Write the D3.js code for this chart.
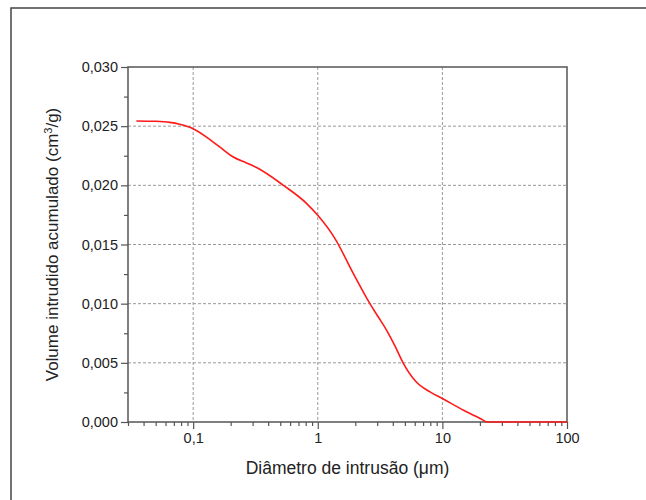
<!DOCTYPE html>
<html lang="pt">
<head>
  <meta charset="UTF-8">
  <title>Volume intrudido acumulado</title>
  <script src="https://d3js.org/d3.v7.min.js"></script>
  <style>
    body { margin: 0; background: #fff; }
    text { font-family: "Liberation Sans", Arial, sans-serif; fill: #222; }
  </style>
</head>
<body>
  <div id="chart"></div>

  <script>
    // Data
    const diameter = [0.035, 0.05, 0.065, 0.078, 0.1, 0.145, 0.174, 0.21, 0.268, 0.323, 0.53, 0.815,
                      1.0, 1.375, 1.93, 2.62, 3.06, 3.57, 4.17, 4.8, 6.1, 7.96, 10, 14.8, 20.1, 23,
                      30, 50, 100];
    const volume = [0.02544, 0.02541, 0.02532, 0.02516, 0.02479, 0.02366, 0.02302, 0.02239, 0.02189,
                    0.02150, 0.0200, 0.01846, 0.01747, 0.0155, 0.01254, 0.0100, 0.00887, 0.00775,
                    0.00642, 0.00507, 0.00345, 0.00254, 0.00198, 0.00099, 0.0003, 0, 0, 0, 0];
    const xTicks = [0.1, 1, 10, 100];
    const xTickLabels = ["0,1", "1", "10", "100"];
    const yTicks = [0, 0.005, 0.010, 0.015, 0.020, 0.025, 0.030];

    const width = 646, height = 500;
    const margin = { top: 67, right: 79, bottom: 78, left: 128 };
    const iw = width - margin.left - margin.right;
    const ih = height - margin.top - margin.bottom;

    const svg = d3.select("#chart").append("svg")
      .attr("width", width)
      .attr("height", height);

    // outer frame (only left and top visible in the crop)
    svg.append("path")
      .attr("d", `M11,${height} V8 H${width}`)
      .attr("fill", "none")
      .attr("stroke", "#444")
      .attr("stroke-width", 1.5);

    const g = svg.append("g").attr("transform", `translate(${margin.left},${margin.top})`);

    const x = d3.scaleLog().domain([0.03, 100]).range([0, iw]);
    const y = d3.scaleLinear().domain([0, 0.030]).range([ih, 0]);

    // grid
    g.append("g").selectAll("line")
      .data(xTicks.slice(0, -1))
      .join("line")
      .attr("x1", d => x(d)).attr("x2", d => x(d))
      .attr("y1", 0).attr("y2", ih)
      .attr("stroke", "#999").attr("stroke-dasharray", "3,2");
    g.append("g").selectAll("line")
      .data(yTicks.slice(1, -1))
      .join("line")
      .attr("x1", 0).attr("x2", iw)
      .attr("y1", d => y(d)).attr("y2", d => y(d))
      .attr("stroke", "#999").attr("stroke-dasharray", "3,2");

    // minor ticks
    const xMinor = x.ticks().filter(t => !xTicks.includes(t));
    const yMinor = d3.range(0.0025, 0.030, 0.005);

    g.append("g").attr("transform", `translate(0,${ih})`)
      .call(d3.axisBottom(x).tickValues(xTicks).tickFormat((d, i) => xTickLabels[i]).tickSize(7).tickPadding(4));
    g.append("g").attr("transform", `translate(0,${ih})`)
      .call(d3.axisBottom(x).tickValues(xMinor).tickFormat("").tickSize(4));

    g.append("g")
      .call(d3.axisLeft(y).tickValues(yTicks).tickFormat(d => d3.format(".3f")(d).replace(".", ",")).tickSize(7).tickPadding(3));
    g.append("g")
      .call(d3.axisLeft(y).tickValues(yMinor).tickFormat("").tickSize(4));

    g.selectAll(".tick line").attr("stroke", "#555").attr("stroke-width", 1.2);
    g.selectAll(".domain").remove();
    g.selectAll(".tick text").style("font-size", "14.5px").attr("fill", "#222");

    // box
    g.append("rect")
      .attr("width", iw).attr("height", ih)
      .attr("fill", "none").attr("stroke", "#555").attr("stroke-width", 1.5);

    // curve
    const line = d3.line()
      .x((d, i) => x(diameter[i]))
      .y(d => y(d))
      .curve(d3.curveMonotoneX);
    g.append("path")
      .datum(volume)
      .attr("d", line)
      .attr("fill", "none")
      .attr("stroke", "#ff1a1a")
      .attr("stroke-width", 1.6);

    // axis titles
    svg.append("text")
      .attr("x", margin.left + iw / 2)
      .attr("y", 474)
      .attr("text-anchor", "middle")
      .style("font-size", "17.5px")
      .text("Diâmetro de intrusão (μm)");

    const yt = svg.append("text")
      .attr("transform", `translate(58,${margin.top + ih / 2}) rotate(-90)`)
      .attr("text-anchor", "middle")
      .style("font-size", "17px");
    yt.append("tspan").text("Volume intrudido acumulado (cm");
    yt.append("tspan").attr("dy", -6).style("font-size", "11px").text("3");
    yt.append("tspan").attr("dy", 6).text("/g)");
  </script>
</body>
</html>
